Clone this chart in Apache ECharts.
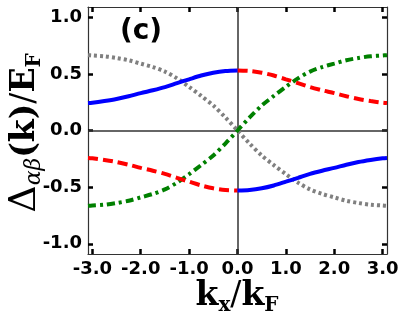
<!DOCTYPE html>
<html><head><meta charset="utf-8">
<script src="https://cdn.jsdelivr.net/npm/echarts@6/dist/echarts.min.js"></script>
<style>html,body{margin:0;padding:0;background:#fff}#c{width:407px;height:317px}</style>
</head><body><div id="c"></div>
<script>
// ---- data ----
const xLeft  = [-3.09, -3, -2.75, -2.5, -2.25, -2, -1.75, -1.5, -1.25, -1, -0.75, -0.5, -0.25, 0];
const xRight = [0, 0.25, 0.5, 0.75, 1, 1.25, 1.5, 1.75, 2, 2.25, 2.5, 2.75, 3, 3.09];
const xAll   = [-3.09, -3, -2.75, -2.5, -2.25, -2, -1.75, -1.5, -1.25, -1, -0.75, -0.5, -0.25, 0,
                0.25, 0.5, 0.75, 1, 1.25, 1.5, 1.75, 2, 2.25, 2.5, 2.75, 3, 3.09];
const blueLeft  = [0.242, 0.245, 0.26, 0.278, 0.302, 0.33, 0.355, 0.383, 0.418, 0.452, 0.485, 0.51, 0.525, 0.53];
const blueRight = [-0.53, -0.525, -0.51, -0.485, -0.452, -0.418, -0.383, -0.355, -0.33, -0.302, -0.278, -0.26, -0.245, -0.242];
const redLeft   = [-0.242, -0.245, -0.26, -0.278, -0.302, -0.33, -0.355, -0.383, -0.418, -0.452, -0.485, -0.51, -0.525, -0.53];
const redRight  = [0.53, 0.525, 0.51, 0.485, 0.452, 0.418, 0.383, 0.355, 0.33, 0.302, 0.278, 0.26, 0.245, 0.242];
const gray  = [0.665, 0.662, 0.655, 0.64, 0.62, 0.59, 0.56, 0.52, 0.46, 0.385, 0.305, 0.22, 0.115, 0,
               -0.115, -0.22, -0.305, -0.385, -0.46, -0.52, -0.56, -0.59, -0.62, -0.64, -0.655, -0.662, -0.665];
const green = [-0.665, -0.662, -0.655, -0.64, -0.62, -0.59, -0.56, -0.52, -0.46, -0.385, -0.305, -0.22, -0.115, 0,
               0.115, 0.22, 0.305, 0.385, 0.46, 0.52, 0.56, 0.59, 0.62, 0.64, 0.655, 0.662, 0.665];
const xTicks = [-3, -2, -1, 0, 1, 2, 3];
const yTicks = [-1, -0.5, 0, 0.5, 1];
const xRange = [-3.09, 3.09];
const yRange = [-1.09, 1.09];

const pairs = (xs, ys) => xs.map((x, i) => [x, ys[i]]);
const chart = echarts.init(document.getElementById('c'), null, {renderer: 'canvas'});

const frameLine = {show: true, onZero: false, lineStyle: {color: '#333', width: 1.2}};
const tickStyle = vals => ({show: true, inside: true, length: 5, customValues: vals, lineStyle: {color: '#000', width: 2.5}});
const labelStyle = vals => ({show: true, customValues: vals, margin: 6, color: '#000', fontFamily: 'DejaVu Sans',
  fontWeight: 'bold', fontSize: 18, formatter: v => Number(v).toFixed(1)});

const lineS = (data, color, type, width, z) => ({
  type: 'line', data, showSymbol: false, smooth: 0.3, silent: true, z,
  lineStyle: {color, width, type, cap: 'butt'}
});

const serif = 'DejaVu Serif';
chart.setOption({
  animation: false,
  grid: {left: 88, right: 20, top: 7, bottom: 63},
  xAxis: [
    {type: 'value', min: xRange[0], max: xRange[1], position: 'bottom', axisLine: frameLine,
     axisTick: tickStyle(xTicks), axisLabel: labelStyle(xTicks), splitLine: {show: false}},
    {type: 'value', min: xRange[0], max: xRange[1], position: 'top', axisLine: frameLine,
     axisTick: tickStyle(xTicks), axisLabel: {show: false}, splitLine: {show: false}}
  ],
  yAxis: [
    {type: 'value', min: yRange[0], max: yRange[1], position: 'left', axisLine: frameLine,
     axisTick: tickStyle(yTicks), axisLabel: labelStyle(yTicks), splitLine: {show: false}},
    {type: 'value', min: yRange[0], max: yRange[1], position: 'right', axisLine: frameLine,
     axisTick: tickStyle(yTicks), axisLabel: {show: false}, splitLine: {show: false}}
  ],
  series: [
    Object.assign(lineS(pairs(xAll, gray), '#808080', [3, 3], 4, 2), {
      markLine: {silent: true, symbol: 'none', label: {show: false}, z: 1,
        lineStyle: {color: '#333', width: 1.5, type: 'solid'},
        data: [{xAxis: 0}, {yAxis: 0}]}
    }),
    lineS(pairs(xAll, green), '#008000', [8, 4, 3, 4], 4, 3),
    lineS(pairs(xLeft, redLeft), '#ff0000', [10, 5], 4, 4),
    lineS(pairs(xRight, redRight), '#ff0000', [10, 5], 4, 4),
    lineS(pairs(xLeft, blueLeft), '#0000ff', 'solid', 4, 5),
    lineS(pairs(xRight, blueRight), '#0000ff', 'solid', 4, 5)
  ],
  graphic: [
    {type: 'text', x: 141, y: 32, z: 10, style: {text: '(c)', fontFamily: 'DejaVu Sans', fontWeight: 'bold',
      fontSize: 28, fill: '#000', align: 'center', verticalAlign: 'middle'}},
    {type: 'text', x: 237, y: 296, z: 10, style: {
      text: '{m|k}{s|x}{n|/}{m|k}{s|F}', align: 'center', verticalAlign: 'middle',
      rich: {
        m: {fontFamily: serif, fontWeight: 'bold', fontSize: 33, lineHeight: 40, fill: '#000'},
        n: {fontFamily: serif, fontSize: 33, lineHeight: 40, fill: '#000'},
        s: {fontFamily: serif, fontWeight: 'bold', fontSize: 20, lineHeight: 20, verticalAlign: 'bottom', fill: '#000'}
      }}},
    {type: 'text', x: 25, y: 133, rotation: Math.PI / 2, z: 10, style: {
      text: '{d|Δ}{a|αβ}{m|(k)}{n|/}{m|E}{s|F}', align: 'center', verticalAlign: 'middle',
      rich: {
        d: {fontFamily: serif, fontSize: 38, lineHeight: 40, fill: '#000'},
        m: {fontFamily: serif, fontWeight: 'bold', fontSize: 33, lineHeight: 40, fill: '#000'},
        n: {fontFamily: serif, fontSize: 33, lineHeight: 40, fill: '#000'},
        a: {fontFamily: serif, fontStyle: 'italic', fontSize: 22, lineHeight: 22, verticalAlign: 'bottom', fill: '#000'},
        s: {fontFamily: serif, fontWeight: 'bold', fontSize: 20, lineHeight: 20, verticalAlign: 'bottom', fill: '#000'}
      }}}
  ]
});
</script></body></html>
